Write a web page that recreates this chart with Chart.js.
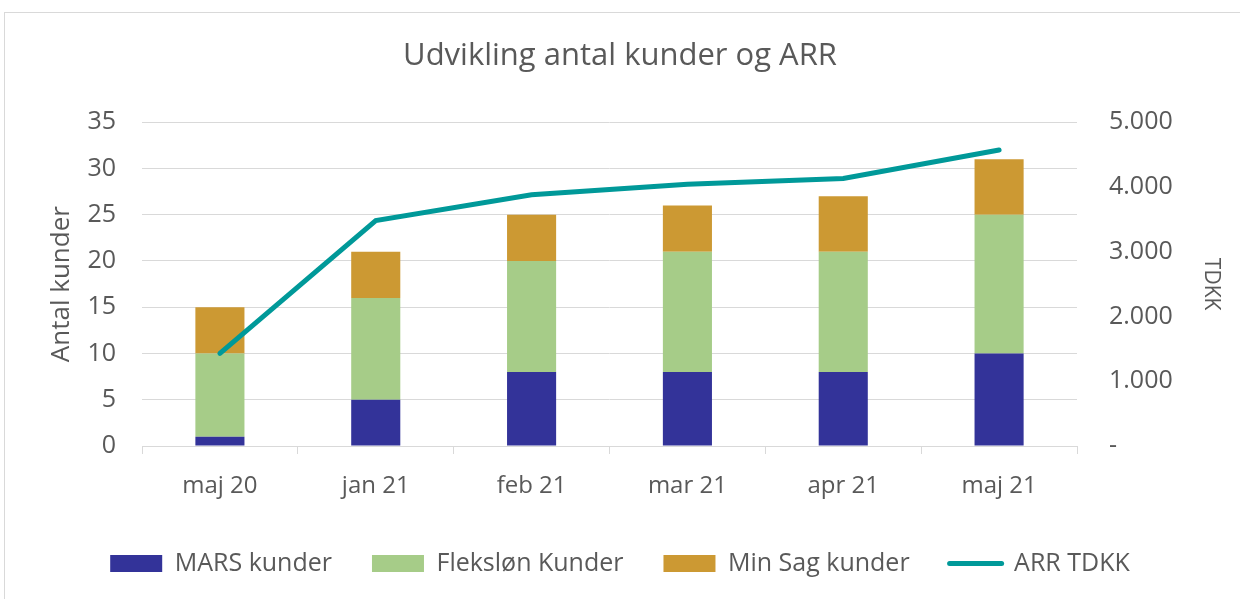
<!DOCTYPE html>
<html>
<head>
  <title>Udvikling antal kunder og ARR</title>
  <script src="https://cdn.jsdelivr.net/npm/chart.js"></script>
  <style>
    body { margin: 0; background: #fff; }
    #frame { position: absolute; left: 4px; top: 12px; width: 1300px; height: 700px; border: 1px solid #d9d9d9; }
    #wrap { position: absolute; left: 0; top: 0; width: 1240px; height: 599px; }
  </style>
</head>
<body>
  <div id="frame"></div>
  <div id="wrap"><canvas id="arrChart" width="1240" height="599"></canvas></div>

  <script>
    const months = ['maj 20', 'jan 21', 'feb 21', 'mar 21', 'apr 21', 'maj 21'];
    const marsKunder = [1, 5, 8, 8, 8, 10];
    const fleksloenKunder = [9, 11, 12, 13, 13, 15];
    const minSagKunder = [5, 5, 5, 5, 6, 6];
    const arrTdkk = [1430, 3480, 3880, 4040, 4130, 4570];

    const grey = '#595959';
    const gridGrey = '#d9d9d9';
    const font = 'Open Sans';

    Chart.defaults.font.family = font;
    Chart.defaults.color = grey;

    const ctx = document.getElementById('arrChart').getContext('2d');

    new Chart(ctx, {
      type: 'bar',
      data: {
        labels: months,
        datasets: [
          { label: 'MARS kunder', data: marsKunder, backgroundColor: '#333399', yAxisID: 'y', order: 1,
            barPercentage: 0.315, categoryPercentage: 1 },
          { label: 'Fleksløn Kunder', data: fleksloenKunder, backgroundColor: '#a6cc88', yAxisID: 'y', order: 1,
            barPercentage: 0.315, categoryPercentage: 1 },
          { label: 'Min Sag kunder', data: minSagKunder, backgroundColor: '#cc9933', yAxisID: 'y', order: 1,
            barPercentage: 0.315, categoryPercentage: 1 },
          { type: 'line', label: 'ARR TDKK', data: arrTdkk, yAxisID: 'y1', order: 0,
            borderColor: '#009999', backgroundColor: '#009999', borderWidth: 5,
            borderCapStyle: 'round', pointRadius: 0, tension: 0 }
        ]
      },
      options: {
        responsive: false,
        animation: false,
        layout: { padding: { left: 0, right: 0, top: 0, bottom: 13 } },
        plugins: {
          title: {
            display: true,
            text: 'Udvikling antal kunder og ARR',
            color: grey,
            font: { size: 31, weight: 'normal' },
            padding: { top: 38, bottom: 47 }
          },
          legend: {
            position: 'bottom',
            labels: {
              color: grey,
              font: { size: 25 },
              usePointStyle: true,
              pointStyleWidth: 52,
              boxHeight: 17,
              padding: 40,
              sort: (a, b) => a.datasetIndex - b.datasetIndex,
              generateLabels(chart) {
                const items = Chart.defaults.plugins.legend.labels.generateLabels(chart);
                items.forEach(it => {
                  const ds = chart.data.datasets[it.datasetIndex];
                  it.pointStyle = ds.type === 'line' ? 'line' : 'rect';
                  if (ds.type === 'line') { it.lineCap = 'round'; it.lineWidth = 5; }
                });
                return items;
              }
            }
          },
          tooltip: { enabled: false }
        },
        scales: {
          x: {
            stacked: true,
            offset: true,
            grid: { offset: true, drawOnChartArea: false, color: gridGrey, tickLength: 8 },
            border: { display: true, color: gridGrey },
            ticks: { color: grey, font: { size: 24 }, padding: 18 },
            afterFit(scale) { scale.height = 65; }
          },
          y: {
            stacked: true,
            position: 'left',
            min: 0,
            max: 35,
            ticks: { stepSize: 5, color: grey, font: { size: 25 }, padding: 26 },
            grid: { color: gridGrey, drawTicks: false },
            border: { display: false },
            title: { display: true, text: 'Antal kunder', color: grey, font: { size: 26 }, padding: { top: 46, bottom: 0 } },
            afterFit(scale) { scale.width = 142; }
          },
          y1: {
            position: 'right',
            min: 0,
            max: 5000,
            ticks: {
              stepSize: 1000, color: grey, font: { size: 25 }, padding: 32,
              callback: v => v === 0 ? '-' : v.toLocaleString('da-DK')
            },
            grid: { drawOnChartArea: false, drawTicks: false },
            border: { display: false },
            title: { display: true, text: 'TDKK', color: grey, font: { size: 21 }, padding: { top: 16, bottom: 0 } },
            afterFit(scale) { scale.width = 163; }
          }
        }
      }
    });
  </script>
</body>
</html>
